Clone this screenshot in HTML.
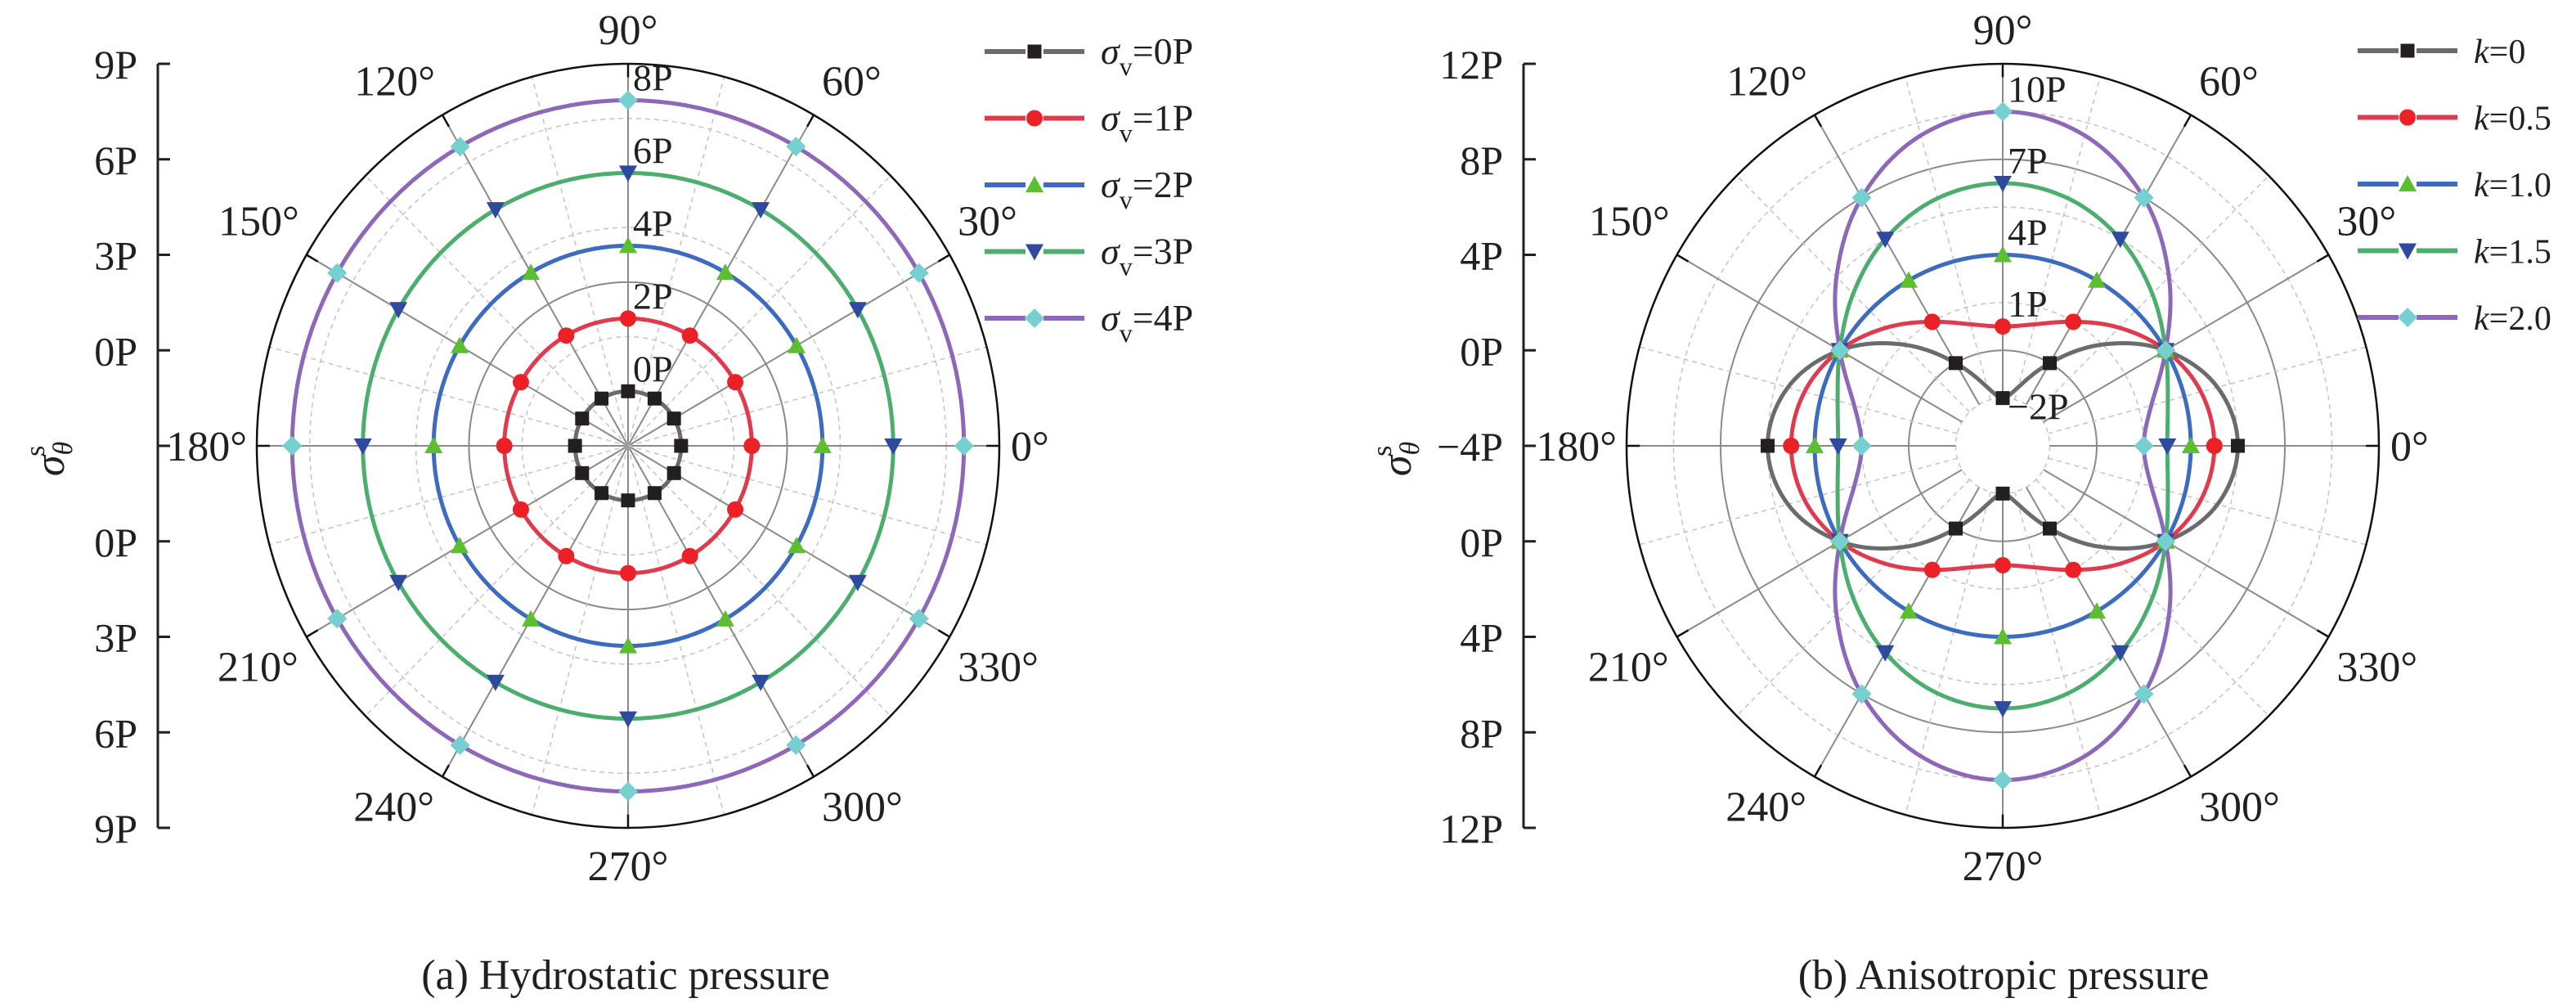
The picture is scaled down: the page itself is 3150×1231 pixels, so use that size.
<!DOCTYPE html>
<html><head><meta charset="utf-8"><style>
html,body{margin:0;padding:0;background:#fff;}
svg, svg text{font-family:"Liberation Serif","DejaVu Serif",serif;}
</style></head><body>
<svg id="fig" width="3150" height="1226" viewBox="0 0 3150 1226" xmlns="http://www.w3.org/2000/svg" font-family="'Liberation Serif', 'DejaVu Serif', serif">
<g id="chartA"></g>
<g id="chartB"></g>
<text x="765" y="1209" font-size="52" text-anchor="middle" fill="#231f20">(a) Hydrostatic pressure</text>
<text x="2450" y="1209" font-size="52" text-anchor="middle" fill="#231f20">(b) Anisotropic pressure</text>
</svg>
<script>
// ---- Chart A data (values at 0°,30°,...,330°) ----
const anglesA = [0,30,60,90,120,150,180,210,240,270,300,330];
const seriesA0 = [0,0,0,0,0,0,0,0,0,0,0,0];
const seriesA1 = [2,2,2,2,2,2,2,2,2,2,2,2];
const seriesA2 = [4,4,4,4,4,4,4,4,4,4,4,4];
const seriesA3 = [6,6,6,6,6,6,6,6,6,6,6,6];
const seriesA4 = [8,8,8,8,8,8,8,8,8,8,8,8];
const legendA = ["0P","1P","2P","3P","4P"];
const axisTicksA = ["9P","6P","3P","0P","","0P","3P","6P","9P"];
const ringLabelsA = ["0P","2P","4P","6P","8P"];
const ringValuesA = [0,2,4,6,8];
// ---- Chart B data (values at 0°,15°,...,345°) ----
const anglesB = [0,15,30,45,60,75,90,105,120,135,150,165,180,195,210,225,240,255,270,285,300,315,330,345];
const seriesB0 = [6,5.46,4,2,0,-1.46,-2,-1.46,0,2,4,5.46,6,5.46,4,2,0,-1.46,-2,-1.46,0,2,4,5.46];
const seriesB1 = [5,4.73,4,3,2,1.27,1,1.27,2,3,4,4.73,5,4.73,4,3,2,1.27,1,1.27,2,3,4,4.73];
const seriesB2 = [4,4,4,4,4,4,4,4,4,4,4,4,4,4,4,4,4,4,4,4,4,4,4,4];
const seriesB3 = [3,3.27,4,5,6,6.73,7,6.73,6,5,4,3.27,3,3.27,4,5,6,6.73,7,6.73,6,5,4,3.27];
const seriesB4 = [2,2.54,4,6,8,9.46,10,9.46,8,6,4,2.54,2,2.54,4,6,8,9.46,10,9.46,8,6,4,2.54];
const legendB = ["0","0.5","1.0","1.5","2.0"];
const axisTicksB = ["12P","8P","4P","0P","\u22124P","0P","4P","8P","12P"];
const ringLabelsB = ["\u22122P","1P","4P","7P","10P"];
const ringValuesB = [-2,1,4,7,10];

const NS="http://www.w3.org/2000/svg";
const FONT="'Liberation Serif', 'DejaVu Serif', serif";
const styles=[
 {line:"#6b6b6b",mk:"#231f20",shape:"square"},
 {line:"#e03a4e",mk:"#ec2127",shape:"circle"},
 {line:"#3d6bbf",mk:"#5bbf30",shape:"up"},
 {line:"#4cae6e",mk:"#2e4aa0",shape:"down"},
 {line:"#8d68b8",mk:"#76d0d0",shape:"diamond"}];
function mk(tag,attrs,parent){const e=document.createElementNS(NS,tag);for(const k in attrs)e.setAttribute(k,attrs[k]);if(tag==="text")e.setAttribute("font-family",FONT);parent.appendChild(e);return e;}

function marker(g,x,y,st){
  let e;
  if(st.shape==="square"){e=mk("rect",{x:x-8.5,y:y-8.5,width:17,height:17,fill:st.mk},g);}
  else if(st.shape==="circle"){e=mk("circle",{cx:x,cy:y,r:10,fill:st.mk},g);}
  else if(st.shape==="up"){e=mk("polygon",{points:`${x-11},${y+9} ${x+11},${y+9} ${x},${y-11}`,fill:st.mk},g);}
  else if(st.shape==="down"){e=mk("polygon",{points:`${x-11},${y-9} ${x+11},${y-9} ${x},${y+11}`,fill:st.mk},g);}
  else {e=mk("polygon",{points:`${x},${y-12} ${x+12},${y} ${x},${y+12} ${x-12},${y}`,fill:st.mk},g);}
  
  
}

function buildChart(g,cfg){
  const {cx,cy,rx,ry,vmin,vmax}=cfg;
  const fr=v=>(v-vmin)/(vmax-vmin);
  const px=(v,a)=>cx+rx*fr(v)*Math.cos(a*Math.PI/180);
  const py=(v,a)=>cy-ry*fr(v)*Math.sin(a*Math.PI/180);
  cfg.solidRings.forEach(v=>{const e=mk("ellipse",{cx,cy,rx:rx*fr(v),ry:ry*fr(v),fill:"none",stroke:"#8a8a8a","stroke-width":2},g);
    });
  cfg.dashRings.forEach(v=>{const e=mk("ellipse",{cx,cy,rx:rx*fr(v),ry:ry*fr(v),fill:"none",stroke:"#c4c4c4","stroke-width":1.5,"stroke-dasharray":"6 5"},g);
    });
  for(let a=0;a<360;a+=15){
    const major=a%30===0;
    const r0=cfg.spokeStart;
    const e=mk("line",{x1:px(r0,a),y1:py(r0,a),x2:px(vmax,a),y2:py(vmax,a),stroke:major?"#8a8a8a":"#c4c4c4","stroke-width":major?2:1.5,"stroke-dasharray":major?"none":"6 5"},g);
    
    if(major){const t=vmax-(vmax-vmin)*0.035;
      const k=mk("line",{x1:px(t,a),y1:py(t,a),x2:px(vmax,a),y2:py(vmax,a),stroke:"#111","stroke-width":2.5},g);
      }
  }
  const oc=mk("ellipse",{cx,cy,rx,ry,fill:"none",stroke:"#111","stroke-width":2.5},g);
  
  for(let a=0;a<360;a+=30){
    const ex=px(vmax,a),ey=py(vmax,a);
    let x=ex,y=ey,anchor="middle";
    if(a===0){x=ex+14;y=ey+18;anchor="start";}
    else if(a===180){x=ex-12;y=ey+18;anchor="end";}
    else if(a===90){y=ey-24;}
    else if(a===270){y=ey+64;}
    else if(a<90){x=ex+10;y=ey-24;anchor="start";}
    else if(a<180){x=ex-9;y=ey-24;anchor="end";}
    else if(a<270){x=ex-10;y=ey+54;anchor="end";}
    else {x=ex+10;y=ey+54;anchor="start";}
    const t=mk("text",{x,y,"font-size":52,"text-anchor":anchor,fill:"#231f20"},g);
    t.textContent=a+"\u00b0";
    
  }
  cfg.ringValues.forEach((v,i)=>{
    const y=py(v,90)+(v<0?26:-12);
    const t=mk("text",{x:cx+6,y,"font-size":46,fill:"#231f20"},g);
    t.textContent=cfg.ringLabels[i];
    
  });
  cfg.series.forEach((vals,si)=>{
    const st=styles[si];const n=vals.length;const ang=cfg.angles;const step=360/n;
    let d="";
    for(let i=0;i<n;i++){
      const p0=vals[(i-1+n)%n],p1=vals[i],p2=vals[(i+1)%n],p3=vals[(i+2)%n];
      for(let s=0;s<12;s++){const t=s/12;
        const v=0.5*((2*p1)+(-p0+p2)*t+(2*p0-5*p1+4*p2-p3)*t*t+(-p0+3*p1-3*p2+p3)*t*t*t);
        const a=ang[i]+step*t;
        d+=(d?"L":"M")+px(v,a).toFixed(2)+","+py(v,a).toFixed(2);}
    }
    d+="Z";
    const path=mk("path",{d,fill:"none",stroke:st.line,"stroke-width":5,"stroke-linejoin":"round"},g);
    
    
  });
  cfg.series.forEach((vals,si)=>{
    const st=styles[si];
    vals.forEach((v,i)=>{const a=cfg.angles[i];if(a%30!==0)return;marker(g,px(v,a),py(v,a),st);});
  });
  const ax=cfg.axisX;
  const al=mk("line",{x1:ax,y1:cy-ry,x2:ax,y2:cy+ry,stroke:"#231f20","stroke-width":3},g);
  
  cfg.axisTicks.forEach((lab,i)=>{
    const y=cy-ry+i*(2*ry)/(cfg.axisTicks.length-1);
    const tk=mk("line",{x1:ax,y1:y,x2:ax+15,y2:y,stroke:"#231f20","stroke-width":3},g);
    
    if(lab){const t=mk("text",{x:ax-25,y:y+18,"font-size":50,"text-anchor":"end",fill:"#231f20"},g);
      t.textContent=lab;}
  });
  const tt=mk("text",{x:0,y:0,"font-size":52,fill:"#231f20",transform:`translate(${cfg.titleX},${cy+16}) rotate(-90)`,"text-anchor":"middle"},g);
  
  tt.innerHTML='<tspan font-style="italic">\u03c3</tspan><tspan font-size="34" font-style="italic" dy="10">\u03b8</tspan><tspan font-size="34" dx="-18" dy="-34">s</tspan>';
  cfg.legend.forEach((lab,i)=>{
    const st=styles[i];const y=cfg.legY+i*81.5;
    const lg=mk("g",{},g);
    
    mk("line",{x1:cfg.legX,y1:y,x2:cfg.legX+122,y2:y,stroke:st.line,"stroke-width":6},lg);
    mk("rect",{x:cfg.legX+50,y:y-12,width:22,height:24,fill:"#fff"},lg);
    marker(lg,cfg.legX+61,y,st);
    const t=mk("text",{x:cfg.legX+142,y:y+15,"font-size":cfg.legFont,fill:"#231f20"},lg);
    t.innerHTML=cfg.legPrefix+lab;
  });
}

buildChart(document.getElementById('chartA'),{cx:768,cy:545,rx:454,ry:467,vmin:-1.5,vmax:9,
  solidRings:[0,3,6],dashRings:[1.5,4.5,7.5],spokeStart:-1.5,angles:anglesA,
  series:[seriesA0,seriesA1,seriesA2,seriesA3,seriesA4],ringValues:ringValuesA,ringLabels:ringLabelsA,
  axisX:193,axisTicks:axisTicksA,titleX:78,legend:legendA,legX:1204,legY:63,legFont:46,
  legPrefix:'<tspan font-style="italic">\u03c3</tspan><tspan font-size="32" dy="14">v</tspan><tspan dy="-14">=</tspan>'});
buildChart(document.getElementById('chartB'),{cx:2449,cy:545,rx:460,ry:467,vmin:-4,vmax:12,
  solidRings:[0,4,8],dashRings:[-2,2,6,10],spokeStart:-2,angles:anglesB,
  series:[seriesB0,seriesB1,seriesB2,seriesB3,seriesB4],ringValues:ringValuesB,ringLabels:ringLabelsB,
  axisX:1863,axisTicks:axisTicksB,titleX:1725,legend:legendB,legX:2883,legY:62,legFont:42,
  legPrefix:'<tspan font-style="italic">k</tspan>='});
</script>
</body></html>
